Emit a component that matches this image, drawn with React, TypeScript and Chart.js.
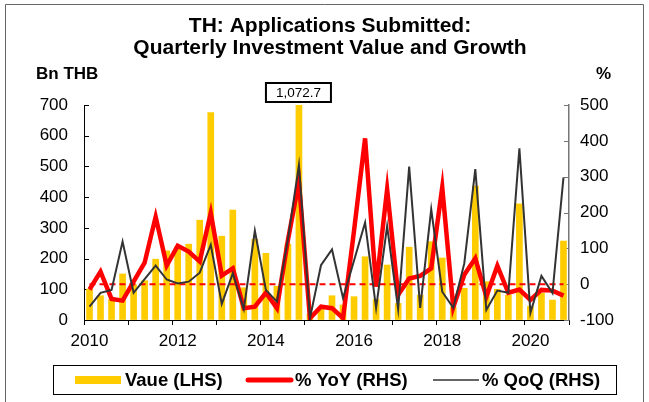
import { useEffect, useRef } from 'react';
import { Chart, registerables } from 'chart.js';

Chart.register(...registerables);

const FONT = '"Liberation Sans", Arial, sans-serif';

const categories = [
  '2010 Q1', '2010 Q2', '2010 Q3', '2010 Q4',
  '2011 Q1', '2011 Q2', '2011 Q3', '2011 Q4',
  '2012 Q1', '2012 Q2', '2012 Q3', '2012 Q4',
  '2013 Q1', '2013 Q2', '2013 Q3', '2013 Q4',
  '2014 Q1', '2014 Q2', '2014 Q3', '2014 Q4',
  '2015 Q1', '2015 Q2', '2015 Q3', '2015 Q4',
  '2016 Q1', '2016 Q2', '2016 Q3', '2016 Q4',
  '2017 Q1', '2017 Q2', '2017 Q3', '2017 Q4',
  '2018 Q1', '2018 Q2', '2018 Q3', '2018 Q4',
  '2019 Q1', '2019 Q2', '2019 Q3', '2019 Q4',
  '2020 Q1', '2020 Q2', '2020 Q3', '2020 Q4',
];

// Bn THB (LHS)
const valueLHS = [
  100, 79, 67, 150, 115, 128, 198, 225, 239, 247, 325, 675,
  273, 358, 105, 263, 217, 110, 247, 1072.7, 20, 40, 79, 49,
  76, 206, 67, 179, 54, 237, 81, 255, 202, 42, 103, 436,
  125, 100, 81, 378, 45, 87, 65, 257,
];

// % YoY (RHS)
const yoyRHS = [
  -15, 35, -41, -46, 7, 60, 188, 52, 107, 91, 63, 199,
  24, 44, -67, -63, -24, -67, 123, 286, -95, -63, -67, -95,
  150, 407, -7, 265, -30, 16, 23, 44, 270, -65, 26, 72,
  -35, 51, -24, -15, -44, -16, -18, -32,
];

// % QoQ (RHS)
const qoqRHS = [
  -63, -24, -16, 119, -24, 14, 52, 13, 2, 7, 32, 110,
  -55, 30, -70, 149, -16, -49, 125, 333, -95, 53, 97, -39,
  66, 172, -67, 162, -70, 328, -66, 209, -21, -66, 58, 321,
  -72, -18, -24, 379, -80, 23, -25, 298,
];

const leftTicks = { min: 0, max: 700, step: 100 };
const rightTicks = { min: -100, max: 500, step: 100 };
const refLevelRHS = 0;

const titleLines = ['TH: Applications Submitted:', 'Quarterly Investment Value and Growth'];
const leftUnit = 'Bn THB';
const rightUnit = '%';
const seriesNames = ['Vaue (LHS)', '% YoY (RHS)', '% QoQ (RHS)'];

const BAR = '#FFCC00';
const RED = '#FF0000';
const DARK = '#333333';

const decorPlugin = {
  id: 'decor',
  beforeDatasetsDraw(chart: any) {
    const { ctx, chartArea, scales } = chart;
    ctx.save();
    ctx.lineWidth = 1;
    ctx.strokeStyle = '#000';
    for (let v = leftTicks.min; v <= leftTicks.max; v += leftTicks.step) {
      const y = Math.round(scales.y.getPixelForValue(v)) + 0.5;
      ctx.beginPath();
      ctx.moveTo(chartArea.left, y);
      ctx.lineTo(chartArea.left + 5, y);
      ctx.stroke();
    }
    ctx.strokeStyle = '#777';
    for (let v = rightTicks.min; v <= rightTicks.max; v += rightTicks.step) {
      const y = Math.round(scales.y2.getPixelForValue(v)) + 0.5;
      ctx.beginPath();
      ctx.moveTo(chartArea.right - 5, y);
      ctx.lineTo(chartArea.right, y);
      ctx.stroke();
    }
    ctx.restore();
  },
  afterDraw(chart: any) {
    const { ctx, scales, chartArea } = chart;
    ctx.save();
    // outer frame
    ctx.strokeStyle = '#666';
    ctx.lineWidth = 1;
    ctx.beginPath();
    ctx.moveTo(5.5, 410);
    ctx.lineTo(5.5, 4.5);
    ctx.lineTo(643.5, 4.5);
    ctx.lineTo(643.5, 410);
    ctx.stroke();

    // title
    ctx.fillStyle = '#000';
    ctx.textAlign = 'center';
    ctx.textBaseline = 'alphabetic';
    ctx.font = `bold 21px ${FONT}`;
    ctx.fillText(titleLines[0], 330, 32);
    ctx.fillText(titleLines[1], 330, 54);

    // unit labels
    ctx.font = `bold 17px ${FONT}`;
    ctx.textAlign = 'left';
    ctx.fillText(leftUnit, 36, 79);
    ctx.fillText(rightUnit, 596, 79);

    // call-out for clipped bar
    const maxIdx = valueLHS.findIndex((v) => v > leftTicks.max);
    if (maxIdx >= 0) {
      const cx = scales.x.getPixelForValue(maxIdx) - 0.5;
      const text = valueLHS[maxIdx].toLocaleString('en-US', { minimumFractionDigits: 1 });
      ctx.font = `13.5px ${FONT}`;
      const w = 65;
      const h = 19;
      const top = chartArea.top - 22;
      ctx.fillStyle = '#fff';
      ctx.fillRect(cx - w / 2, top, w, h);
      ctx.lineWidth = 2;
      ctx.strokeStyle = '#000';
      ctx.strokeRect(cx - w / 2, top, w, h);
      ctx.fillStyle = '#000';
      ctx.textAlign = 'center';
      ctx.textBaseline = 'middle';
      ctx.fillText(text, cx, top + h / 2 + 1);
    }

    // legend
    ctx.lineWidth = 1;
    ctx.strokeStyle = '#000';
    ctx.strokeRect(53.5, 365.5, 563, 29);
    const ly = 380;
    ctx.fillStyle = BAR;
    ctx.fillRect(75, ly - 4, 46, 8);
    ctx.strokeStyle = RED;
    ctx.lineWidth = 5;
    ctx.lineCap = 'round';
    ctx.beginPath();
    ctx.moveTo(248, ly);
    ctx.lineTo(291, ly);
    ctx.stroke();
    ctx.strokeStyle = DARK;
    ctx.lineWidth = 1.5;
    ctx.lineCap = 'butt';
    ctx.beginPath();
    ctx.moveTo(433, ly);
    ctx.lineTo(479, ly);
    ctx.stroke();
    ctx.fillStyle = '#000';
    ctx.font = `bold 18.5px ${FONT}`;
    ctx.textAlign = 'left';
    ctx.textBaseline = 'middle';
    ctx.fillText(seriesNames[0], 125, ly + 1);
    ctx.fillText(seriesNames[1], 295, ly + 1);
    ctx.fillText(seriesNames[2], 482, ly + 1);
    ctx.restore();
  },
};

const refLinePlugin = {
  id: 'refLine',
  afterDatasetDraw(chart: any, args: any) {
    if (args.index !== 0) return;
    const { ctx, scales } = chart;
    const y = scales.y2.getPixelForValue(refLevelRHS);
    const x0 = scales.x.getPixelForValue(0);
    const x1 = scales.x.getPixelForValue(categories.length - 1);
    ctx.save();
    ctx.strokeStyle = RED;
    ctx.lineWidth = 2;
    ctx.setLineDash([6, 4]);
    ctx.beginPath();
    ctx.moveTo(x0, y);
    ctx.lineTo(x1, y);
    ctx.stroke();
    ctx.restore();
  },
};

export default function App() {
  const ref = useRef<HTMLCanvasElement>(null);
  useEffect(() => {
    document.body.style.margin = '0';
    const chart = new Chart(ref.current as HTMLCanvasElement, {
      type: 'bar',
      data: {
        labels: categories,
        datasets: [
          {
            type: 'bar',
            label: seriesNames[0],
            data: valueLHS,
            backgroundColor: BAR,
            barThickness: 6,
            yAxisID: 'y',
            order: 3,
          },
          {
            type: 'line',
            label: seriesNames[1],
            data: yoyRHS,
            borderColor: RED,
            borderWidth: 4.5,
            pointRadius: 0,
            tension: 0,
            yAxisID: 'y2',
            order: 2,
          },
          {
            type: 'line',
            label: seriesNames[2],
            data: qoqRHS,
            borderColor: DARK,
            borderWidth: 2,
            pointRadius: 0,
            tension: 0,
            yAxisID: 'y2',
            order: 1,
          },
        ] as any,
      },
      options: {
        animation: false,
        responsive: true,
        maintainAspectRatio: false,
        layout: { padding: { top: 105, left: 0, right: 0, bottom: 0 } },
        plugins: {
          legend: { display: false },
          tooltip: { enabled: false },
          title: { display: false },
        },
        scales: {
          x: {
            type: 'category',
            offset: true,
            grid: {
              offset: true,
              drawOnChartArea: false,
              drawTicks: true,
              tickLength: 5,
              color: (c: any) =>
                c.index === undefined || c.index % 4 === 0 ? '#000' : 'rgba(0,0,0,0)',
            },
            border: { display: true, color: '#000', width: 1 },
            ticks: {
              autoSkip: false,
              maxRotation: 0,
              minRotation: 0,
              padding: 6,
              color: '#000',
              font: { family: FONT, size: 17 },
              callback: (_v: any, i: number) => (i % 8 === 0 ? categories[i].slice(0, 4) : ''),
            },
            afterFit: (s: any) => {
              s.height = 82;
            },
          },
          y: {
            type: 'linear',
            position: 'left',
            min: leftTicks.min,
            max: leftTicks.max,
            grid: { drawOnChartArea: false, drawTicks: false },
            border: { display: true, color: '#000', width: 1 },
            ticks: {
              stepSize: leftTicks.step,
              padding: 16,
              color: '#000',
              font: { family: FONT, size: 17 },
            },
            afterFit: (s: any) => {
              s.width = 84;
            },
          },
          y2: {
            type: 'linear',
            position: 'right',
            min: rightTicks.min,
            max: rightTicks.max,
            grid: { drawOnChartArea: false, drawTicks: false },
            border: { display: true, color: '#777', width: 1.5 },
            ticks: {
              stepSize: rightTicks.step,
              padding: 11,
              color: '#000',
              font: { family: FONT, size: 17 },
            },
            afterFit: (s: any) => {
              s.width = 80;
            },
          },
        },
      } as any,
      plugins: [decorPlugin, refLinePlugin],
    });
    return () => chart.destroy();
  }, []);
  return (
    <div style={{ width: 649, height: 402, position: 'relative' }}>
      <canvas ref={ref} />
    </div>
  );
}
